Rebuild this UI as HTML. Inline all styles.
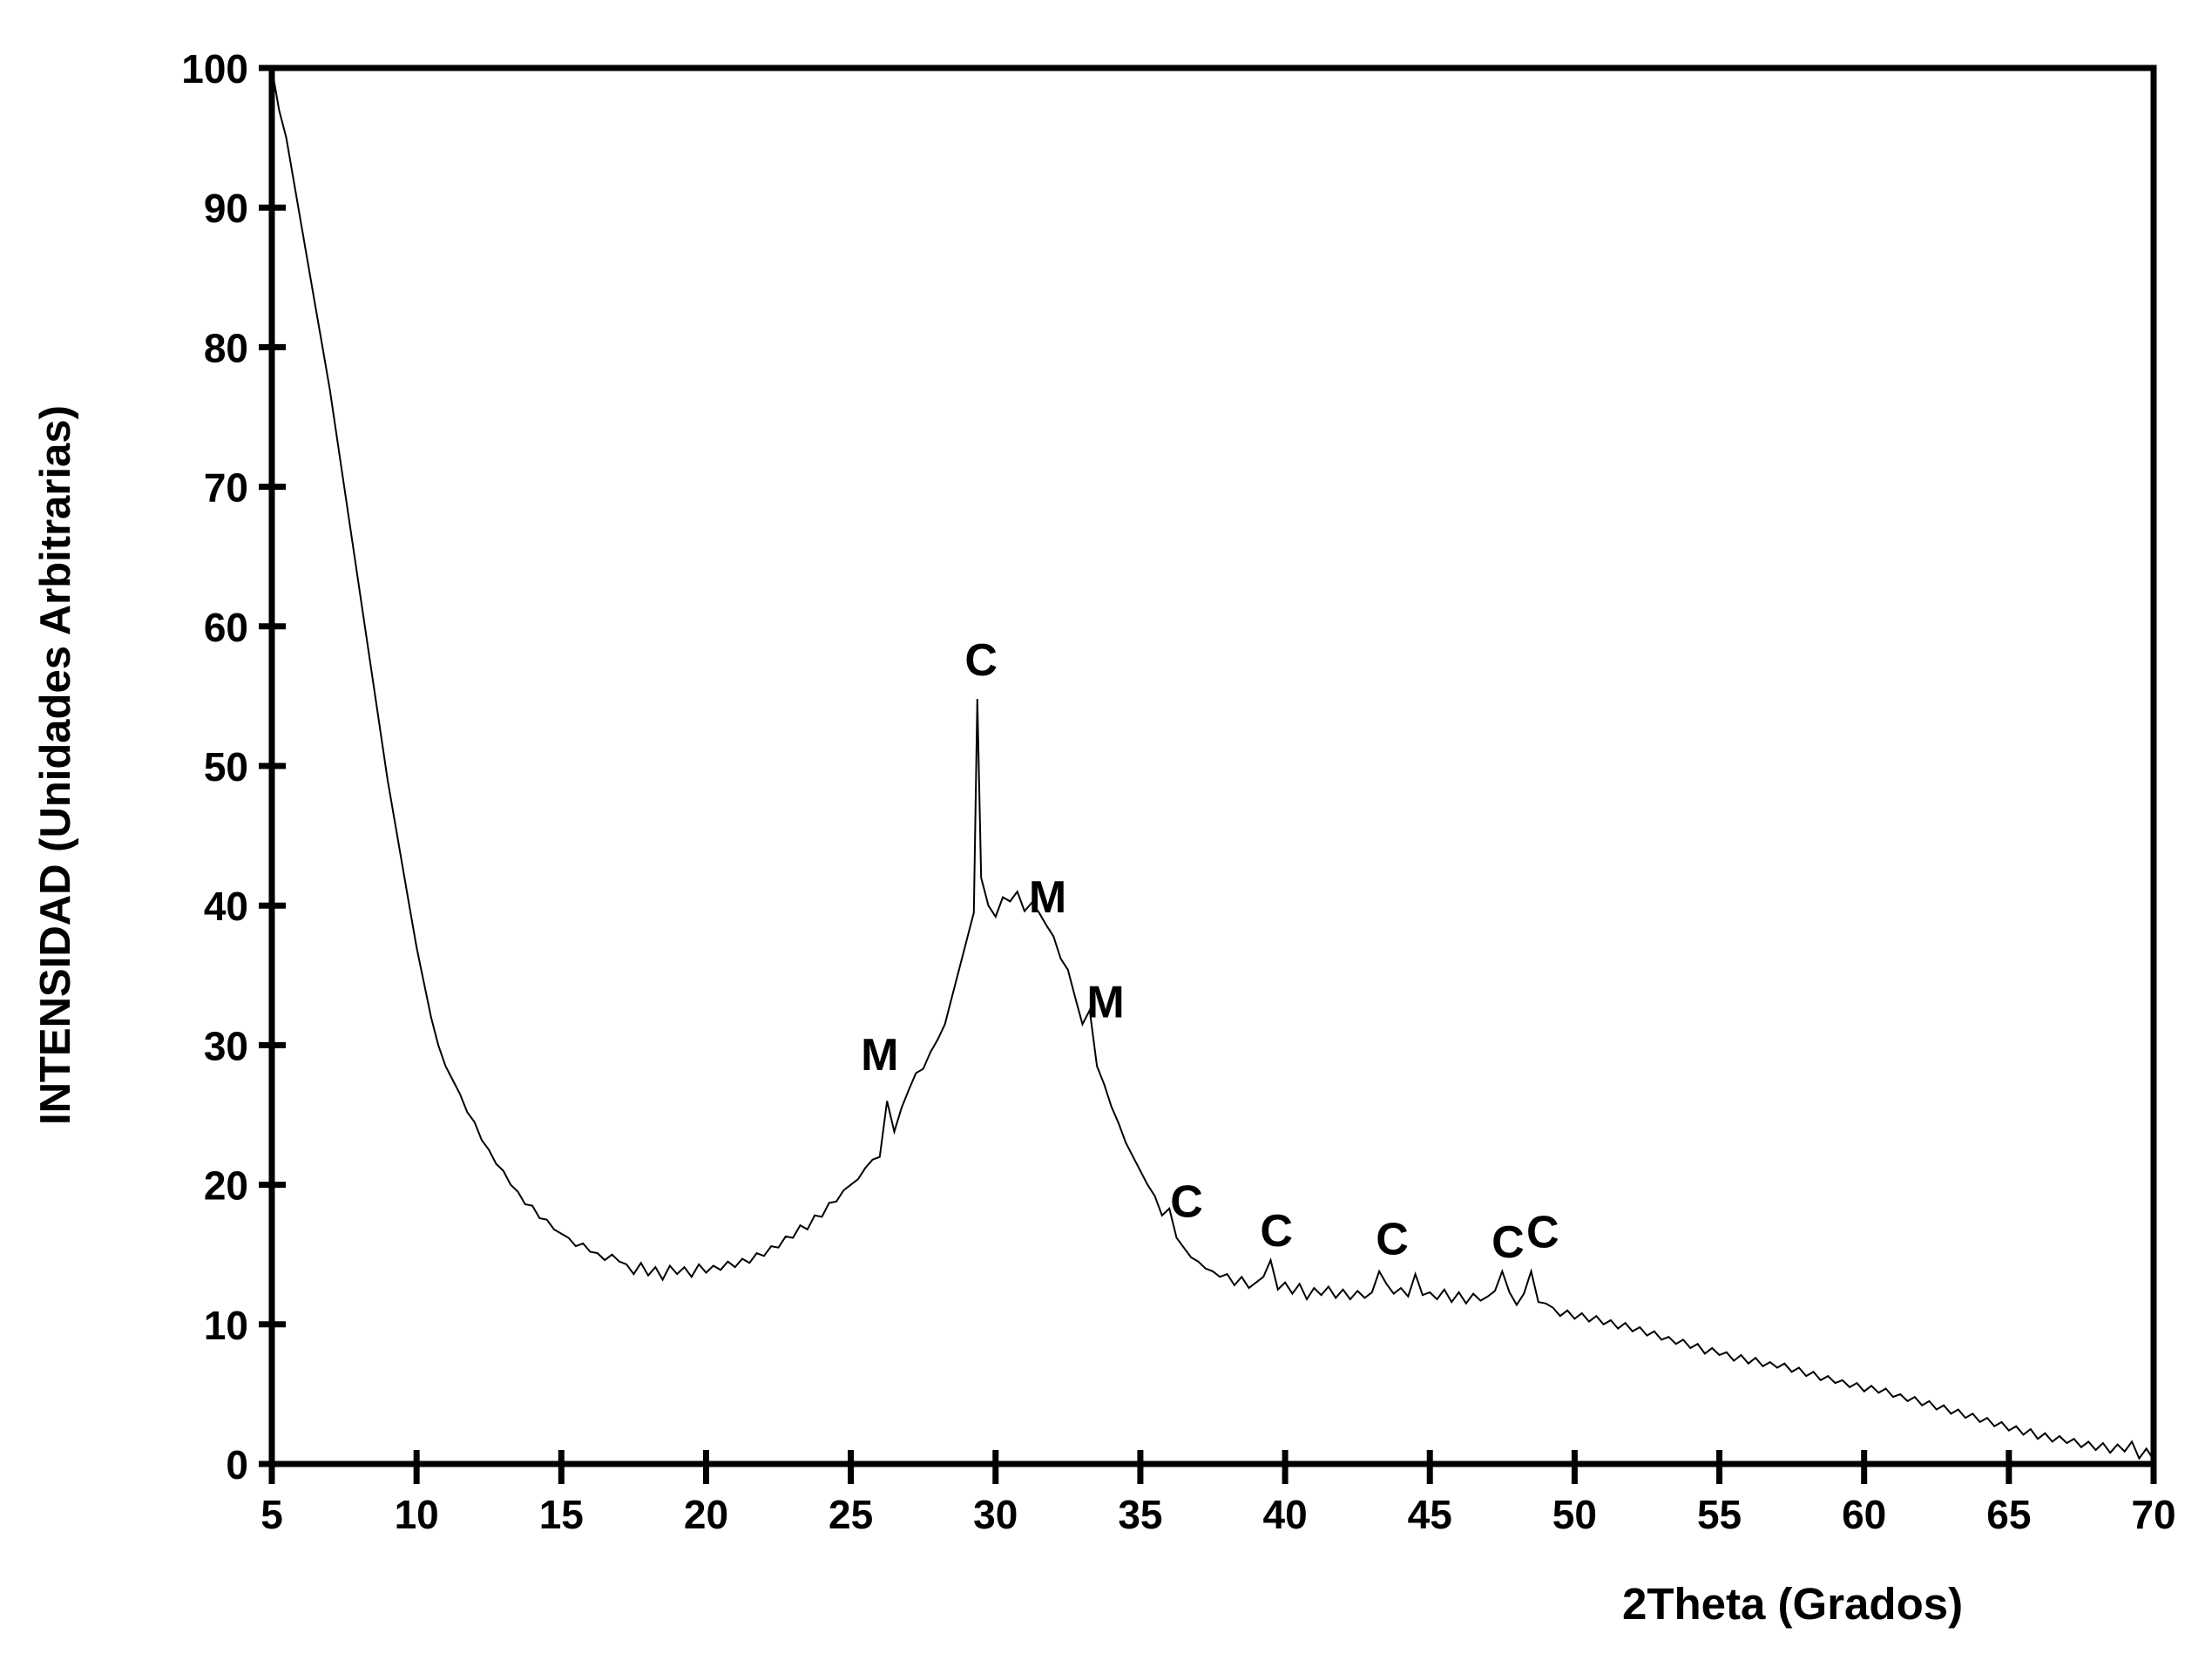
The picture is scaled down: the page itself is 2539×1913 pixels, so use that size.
<!DOCTYPE html>
<html><head><meta charset="utf-8"><style>
html,body{margin:0;padding:0;background:#fff;}
svg{display:block;}
text{font-family:"Liberation Sans",Arial,sans-serif;font-weight:bold;fill:#000;}
</style></head><body>
<svg id="chart" width="2539" height="1913" viewBox="0 0 2539 1913">
<rect x="0" y="0" width="2539" height="1913" fill="#fff"/>
<g id="plot"></g>
<g id="axes"></g>
<text x="1862" y="1858" font-size="51">2Theta (Grados)</text>
<text transform="translate(80,878) rotate(-90)" text-anchor="middle" font-size="49">INTENSIDAD (Unidades Arbitrarias)</text>
</svg>
<script>
const xTicks = [5,10,15,20,25,30,35,40,45,50,55,60,65,70];
const yTicks = [0,10,20,30,40,50,60,70,80,90,100];
const xStart = 5;
const xStep = 0.25;
const intensity = [100,97,95,92,89,86,83,80,77,
73.5,70,66.5,63,59.5,56,52.5,49,
46,43,40,37,34.5,32,30,28.5,
27.5,26.5,25.2,24.5,23.2,22.5,21.5,21,
20,19.5,18.6,18.5,17.6,17.5,16.8,16.5,
16.2,15.6,15.8,15.2,15.1,14.6,15,14.5,
14.3,13.6,14.4,13.5,14.1,13.2,14.2,13.6,
14.1,13.4,14.3,13.7,14.2,13.9,14.5,14.1,
14.7,14.4,15.1,14.9,15.6,15.5,16.3,16.2,
17.1,16.8,17.8,17.7,18.7,18.8,19.6,20,
20.4,21.2,21.8,22,26,23.8,25.5,26.8,
28,28.3,29.5,30.4,31.5,33.5,35.5,37.5,
39.5,42,40,39.2,40.6,40.3,41,39.6,
40.2,39.5,38.6,37.8,36.2,35.4,33.4,31.5,
32.5,28.5,27.2,25.6,24.4,23,22,21,
20,19.2,17.8,18.3,16.2,15.5,14.8,14.5,
14,13.8,13.4,13.6,12.8,13.4,12.6,13,
13.4,14.6,12.5,13,12.2,12.9,11.8,12.6,
12.1,12.7,11.9,12.5,11.8,12.4,11.9,12.3,
13.8,12.9,12.2,12.6,12,13.6,12.1,12.3,
11.8,12.5,11.6,12.3,11.5,12.2,11.7,12,
12.4,13.8,12.3,11.4,12.2,13.8,11.6,11.5,
11.2,10.6,11,10.4,10.8,10.2,10.6,10,
10.3,9.7,10.1,9.5,9.8,9.2,9.5,8.9,
9.1,8.6,8.9,8.3,8.6,7.9,8.3,7.8,
8,7.4,7.8,7.2,7.6,7,7.3,6.9,
7.2,6.6,6.9,6.3,6.6,6,6.3,5.8,
6,5.5,5.8,5.2,5.6,5.1,5.4,4.8,
5,4.5,4.8,4.2,4.5,3.9,4.2,3.6,
3.9,3.3,3.6,3,3.3,2.7,3,2.4,
2.7,2.1,2.5,1.8,2.2,1.6,2,1.5,
1.8,1.2,1.6,1,1.5,0.8,1.4,0.9,
1.6,0.4,1.1,0.3];
const peakX = [29.37];
const peakY = [54.8];
const labelText = ["C","M","M","M","C","C","C","C","C"];
const labelX = [29.5,26.0,31.8,33.8,36.6,39.7,43.7,47.7,48.9];
const labelY = [56.5,28.2,39.5,32.0,17.7,15.6,15.0,14.8,15.5];

const L=312,R=2472,T=78,B=1680;
const sx=v=>L+(v-5)/65*(R-L);
const sy=v=>B-v/100*(B-T);
const NS='http://www.w3.org/2000/svg';
const plot=document.getElementById('plot');
const axes=document.getElementById('axes');

let pts=[];
intensity.forEach((v,i)=>pts.push([xStart+i*xStep,v]));
peakX.forEach((x,i)=>pts.push([x,peakY[i]]));
pts.sort((a,b)=>a[0]-b[0]);
const line=document.createElementNS(NS,'polyline');
line.setAttribute('points',pts.map(p=>sx(p[0]).toFixed(1)+','+sy(p[1]).toFixed(1)).join(' '));
line.setAttribute('fill','none');line.setAttribute('stroke','#000');line.setAttribute('stroke-width','2');


plot.appendChild(line);

labelText.forEach((t,i)=>{
  const tx=document.createElementNS(NS,'text');
  tx.setAttribute('x',sx(labelX[i]));tx.setAttribute('y',sy(labelY[i]));
  tx.setAttribute('text-anchor','middle');tx.setAttribute('font-size','52');
  tx.textContent=t;
  
  
  plot.appendChild(tx);
});

const box=document.createElementNS(NS,'rect');
box.setAttribute('x',L);box.setAttribute('y',T);box.setAttribute('width',R-L);box.setAttribute('height',B-T);
box.setAttribute('fill','none');box.setAttribute('stroke','#000');box.setAttribute('stroke-width','7');


axes.appendChild(box);

xTicks.forEach(v=>{
  const l=document.createElementNS(NS,'line');
  l.setAttribute('x1',sx(v));l.setAttribute('x2',sx(v));l.setAttribute('y1',B-16);l.setAttribute('y2',B+23);
  l.setAttribute('stroke','#000');l.setAttribute('stroke-width','7');
  
  
  axes.appendChild(l);
  const t=document.createElementNS(NS,'text');
  t.setAttribute('x',sx(v));t.setAttribute('y',B+74);t.setAttribute('text-anchor','middle');t.setAttribute('font-size','46');
  t.textContent=v;
  
  
  axes.appendChild(t);
});
yTicks.forEach(v=>{
  const l=document.createElementNS(NS,'line');
  l.setAttribute('x1',L-15);l.setAttribute('x2',L+16);l.setAttribute('y1',sy(v));l.setAttribute('y2',sy(v));
  l.setAttribute('stroke','#000');l.setAttribute('stroke-width','7');
  
  
  axes.appendChild(l);
  const t=document.createElementNS(NS,'text');
  t.setAttribute('x',L-27);t.setAttribute('y',sy(v)+17);t.setAttribute('text-anchor','end');t.setAttribute('font-size','46');
  t.textContent=v;
  
  
  axes.appendChild(t);
});
</script>
</body></html>
